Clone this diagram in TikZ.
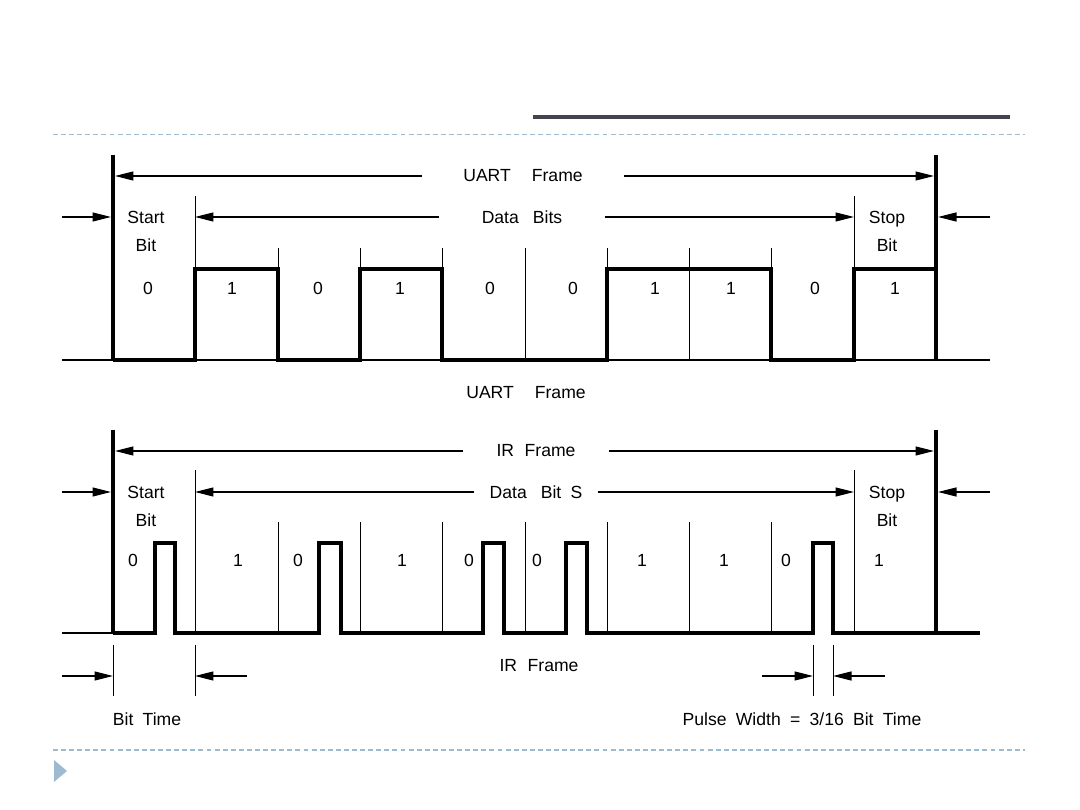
\documentclass[tikz,border=0pt]{standalone}
\usepackage{fontspec}
\setmainfont{Liberation Sans}[WordSpace=1.9]
\usepackage{tikz}
\usetikzlibrary{arrows.meta, positioning}

\definecolor{slideblue}{HTML}{9DBBD0}
\definecolor{slidedark}{HTML}{44444F}

\begin{document}
\begin{tikzpicture}[
  x=0.02cm, y=-0.02cm,
  %%── Styles ───────────────────────────────────────────────────────────────
  lbl/.style={font=\fontsize{10}{16}\selectfont, inner sep=0pt, align=center},
  gaplbl/.style={lbl, inner ysep=0pt},
  sig/.style={draw=black, line width=2.3pt, line join=miter},
  frameedge/.style={draw=black, line width=2.3pt},
  divider/.style={draw=black, line width=0.5pt},
  baseline/.style={draw=black, line width=0.6pt},
  dimarrow/.style={draw=black, line width=0.6pt,
    -{Triangle[length=0.37cm, width=0.18cm]}},
  slidedash/.style={draw=slideblue, line width=1.1pt, dash pattern=on 2.8pt off 1.8pt},
]
\useasboundingbox (0,0) rectangle (1080,810);

%%── Slide decoration ─────────────────────────────────────────────────────
\draw[slidedark, line width=2.1pt] (533,117) -- (1010,117);
\draw[slidedash] (53,134.5) -- (1025,134.5);
\draw[slidedash] (53,750) -- (1025,750);
\fill[slideblue] (54,760) -- (67,771) -- (54,782) -- cycle;

%%════════════════════════════════════════════════════════════════
%% UART FRAME  (high y=269, low y=360)
%%════════════════════════════════════════════════════════════════
\coordinate (uL)  at (115,176);
\coordinate (uR)  at (934,176);
\coordinate (udL) at (195,217);
\coordinate (udR) at (854,217);
\coordinate (uoL) at (62,217);
\coordinate (uiL) at (111,217);
\coordinate (uoR) at (990,217);
\coordinate (uiR) at (938,217);

%% bit dividers
\foreach \x in {278,360,442,525,607,689,771} {
  \draw[divider] (\x,248) -- (\x,360);
}
\draw[divider] (195,196) -- (195,360);
\draw[divider] (854,196) -- (854,360);
\draw[baseline] (62,360) -- (990,360);

%% waveform
\draw[sig] (113,360) -- (195,360) -- (195,269) -- (278,269) -- (278,360)
  -- (360,360) -- (360,269) -- (442,269) -- (442,360) -- (607,360)
  -- (607,269) -- (771,269) -- (771,360) -- (854,360) -- (854,269) -- (936,269);
\draw[frameedge] (113,155) -- (113,361);
\draw[frameedge] (936,155) -- (936,361);

%% labels
\node[gaplbl, inner xsep=0.82cm] (uartlbl) at (523,176) {UART\hspace{12pt}Frame};
\node[gaplbl, inner xsep=0.84cm] (databitslbl) at (522,217) {Data\hspace{8pt}Bits};
\node[lbl] (ustart) at (146,231) {Start\\Bit};
\node[lbl] (ustop)  at (887,231) {Stop\\Bit};
\foreach \x/\b [count=\i] in {148/0, 232/1, 318/0, 400/1, 490/0,
                              573/0, 655/1, 731/1, 815/0, 895/1} {
  \node[lbl] (ubit\i) at (\x,288) {\b};
}
\node[lbl] (uartcap) at (526,393) {UART\hspace{12pt}Frame};

%% dimension arrows
\draw[dimarrow] (uartlbl.west) -- (uL);
\draw[dimarrow] (uartlbl.east) -- (uR);
\draw[dimarrow] (databitslbl.west) -- (udL);
\draw[dimarrow] (databitslbl.east) -- (udR);
\draw[dimarrow] (uoL) -- (uiL);
\draw[dimarrow] (uoR) -- (uiR);

%%════════════════════════════════════════════════════════════════
%% IR FRAME  (high y=543, low y=633)
%%════════════════════════════════════════════════════════════════
\coordinate (iL)  at (115,451);
\coordinate (iR)  at (934,451);
\coordinate (idL) at (195,492);
\coordinate (idR) at (854,492);
\coordinate (ioL) at (62,492);
\coordinate (iiL) at (111,492);
\coordinate (ioR) at (990,492);
\coordinate (iiR) at (938,492);

%% bit dividers
\foreach \x in {278,360,442,525,607,689,771} {
  \draw[divider] (\x,522) -- (\x,633);
}
\draw[divider] (195,470) -- (195,633);
\draw[divider] (854,470) -- (854,633);
\draw[baseline] (62,633) -- (113,633);

%% waveform: 3/16 pulses in every 0 bit
\draw[sig] (113,633) -- (155,633) -- (155,543) -- (175,543) -- (175,633)
  -- (319,633) -- (319,543) -- (341,543) -- (341,633)
  -- (483,633) -- (483,543) -- (504,543) -- (504,633)
  -- (566,633) -- (566,543) -- (587,543) -- (587,633)
  -- (813,633) -- (813,543) -- (833,543) -- (833,633) -- (980,633);
\draw[frameedge] (113,430) -- (113,634);
\draw[frameedge] (936,430) -- (936,634);

%% labels
\node[gaplbl, inner xsep=0.66cm] (irlbl) at (536,451) {IR\hspace{6pt}Frame};
\node[gaplbl, inner xsep=0.3cm] (irdatalbl) at (536,492) {Data\hspace{8pt}Bit S};
\node[lbl] (istart) at (146,506) {Start\\Bit};
\node[lbl] (istop)  at (887,506) {Stop\\Bit};
\foreach \x/\b [count=\i] in {133/0, 238/1, 298/0, 402/1, 469/0,
                              537/0, 642/1, 724/1, 786/0, 879/1} {
  \node[lbl] (ibit\i) at (\x,560) {\b};
}
\node[lbl] (ircap) at (539,666) {IR\hspace{6pt}Frame};

%% dimension arrows
\draw[dimarrow] (irlbl.west) -- (iL);
\draw[dimarrow] (irlbl.east) -- (iR);
\draw[dimarrow] (irdatalbl.west) -- (idL);
\draw[dimarrow] (irdatalbl.east) -- (idR);
\draw[dimarrow] (ioL) -- (iiL);
\draw[dimarrow] (ioR) -- (iiR);

%%── Bit time / pulse width ──────────────────────────────────────────────
\coordinate (btA) at (113,676);
\coordinate (btB) at (195,676);
\coordinate (pwA) at (813,676);
\coordinate (pwB) at (833,676);
\draw[divider] (113,645) -- (113,696);
\draw[divider] (195,645) -- (195,696);
\draw[divider] (813,645) -- (813,696);
\draw[divider] (833,645) -- (833,696);
\coordinate (btinL) at (62,676);
\coordinate (btinR) at (247,676);
\coordinate (pwinL) at (762,676);
\coordinate (pwinR) at (885,676);
\draw[dimarrow] (btinL) -- (btA);
\draw[dimarrow] (btinR) -- (btB);
\draw[dimarrow] (pwinL) -- (pwA);
\draw[dimarrow] (pwinR) -- (pwB);
\node[lbl] (bittime) at (147,719) {Bit Time};
\node[lbl] (pulsewidth) at (802,719) {Pulse Width = 3/16 Bit Time};

\end{tikzpicture}
\end{document}
